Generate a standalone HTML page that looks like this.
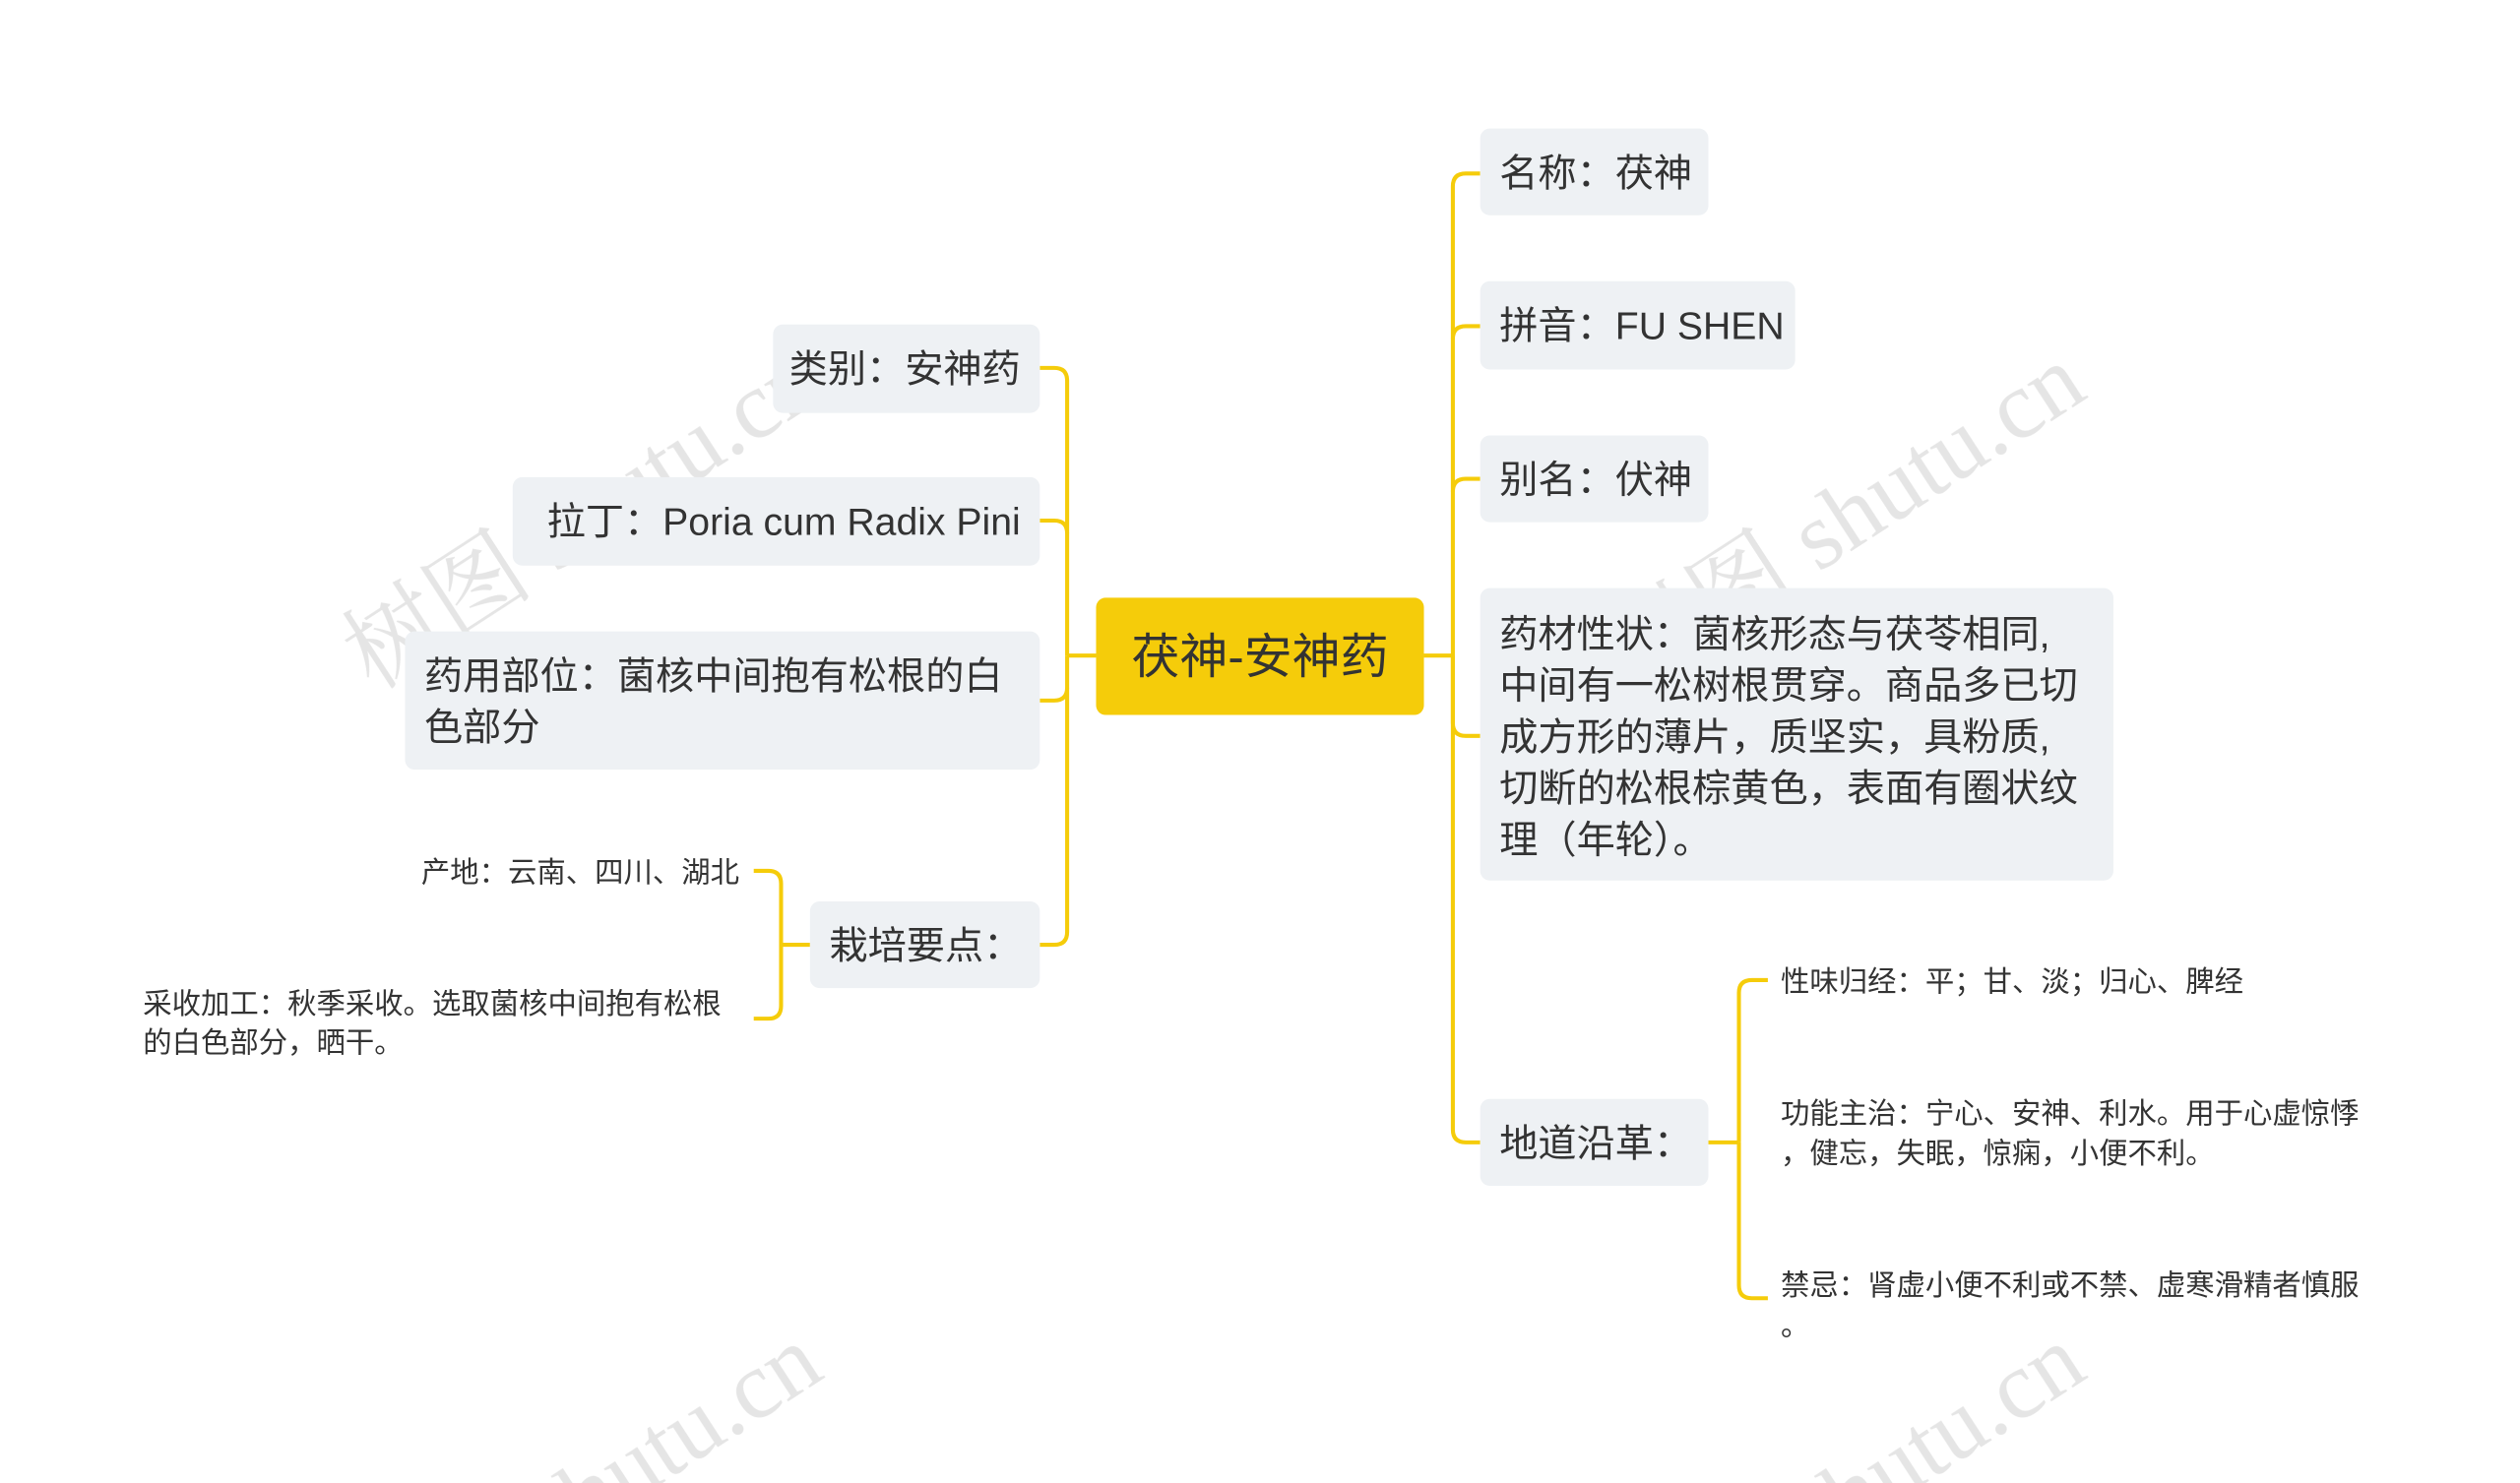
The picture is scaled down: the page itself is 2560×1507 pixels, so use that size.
<!DOCTYPE html>
<html><head><meta charset="utf-8"><style>
html,body{margin:0;padding:0;background:#fff;width:2560px;height:1507px;overflow:hidden}
svg{display:block}
svg text{font-family:"Liberation Sans","Noto Sans CJK SC",sans-serif;fill:#333}
svg text.wm{font-family:"Liberation Serif","Noto Serif CJK SC",serif;fill:#d4d4d4}
</style></head><body>
<svg width="2560" height="1507" viewBox="0 0 1568 923" preserveAspectRatio="none" xmlns="http://www.w3.org/2000/svg">
<defs><clipPath id="c"><rect x="0" y="0" width="1568" height="923"/></clipPath></defs>
<g font-size="60" opacity="0.6" clip-path="url(#c)">
<text class="wm" transform="translate(232 430) rotate(-33)">树图 shutu.cn</text>
<text class="wm" transform="translate(1018 430) rotate(-33)">树图 shutu.cn</text>
<text class="wm" transform="translate(232 1040) rotate(-33)">树图 shutu.cn</text>
<text class="wm" transform="translate(1018 1040) rotate(-33)">树图 shutu.cn</text>
</g>
<g fill="none" stroke="#f5cc0a" stroke-width="2.5">
<path d="M886 408 H904"/>
<path d="M904 408 V116 Q904 108 912 108 H921"/>
<path d="M904 211 Q904 203 912 203 H921"/>
<path d="M904 306 Q904 298 912 298 H921"/>
<path d="M904 408 V450 Q904 458 912 458 H921"/>
<path d="M904 408 V703 Q904 711 912 711 H921"/>
<path d="M1063 711 H1082"/>
<path d="M1082 711 V618 Q1082 610 1090 610 H1100"/>
<path d="M1082 711 V800 Q1082 808 1090 808 H1100"/>
<path d="M682 408 H664"/>
<path d="M664 408 V237 Q664 229 656 229 H647"/>
<path d="M664 332 Q664 324 656 324 H647"/>
<path d="M664 428 Q664 436 656 436 H647"/>
<path d="M664 408 V580 Q664 588 656 588 H647"/>
<path d="M504 588 H486"/>
<path d="M486 588 V550 Q486 542 478 542 H469"/>
<path d="M486 588 V626 Q486 634 478 634 H469"/>
</g>
<rect x="682" y="372" width="204" height="73" rx="6" fill="#f5cc0a"/>
<text x="784" y="419" font-size="30" text-anchor="middle">茯神-安神药</text>
<g fill="#eef1f4">
<rect x="921" y="80" width="142" height="54" rx="6"/>
<rect x="921" y="175" width="196" height="55" rx="6"/>
<rect x="921" y="271" width="142" height="54" rx="6"/>
<rect x="921" y="366" width="394" height="182" rx="6"/>
<rect x="921" y="684" width="142" height="54" rx="6"/>
<rect x="481" y="202" width="166" height="55" rx="6"/>
<rect x="319" y="297" width="328" height="55" rx="6"/>
<rect x="252" y="393" width="395" height="86" rx="6"/>
<rect x="504" y="561" width="143" height="54" rx="6"/>
</g>
<g font-size="24">
<text x="933" y="116">名称：茯神</text>
<text x="933" y="211">拼音：FU SHEN</text>
<text x="933" y="307">别名：伏神</text>
<text x="933" y="403">药材性状：菌核形态与茯苓相同,</text>
<text x="933" y="435">中间有一松树根贯穿。商品多已切</text>
<text x="933" y="467">成方形的薄片，质坚实，具粉质,</text>
<text x="933" y="499">切断的松根棕黄色，表面有圈状纹</text>
<text x="933" y="531">理（年轮）。</text>
<text x="933" y="720">地道沿革：</text>
<text x="635" y="238" text-anchor="end">类别：安神药</text>
<text x="635" y="333" text-anchor="end">拉丁：Poria cum Radix Pini</text>
<text x="264" y="429">药用部位：菌核中间抱有松根的白</text>
<text x="264" y="461">色部分</text>
<text x="516" y="597">栽培要点：</text>
</g>
<g font-size="18">
<text x="1108" y="617">性味归经：平；甘、淡；归心、脾经</text>
<text x="1108" y="699">功能主治：宁心、安神、利水。用于心虚惊悸</text>
<text x="1108" y="724">，健忘，失眠，惊痫，小便不利。</text>
<text x="1108" y="806">禁忌：肾虚小便不利或不禁、虚寒滑精者慎服</text>
<text x="1108" y="831">。</text>
<text x="460" y="549" text-anchor="end">产地：云南、四川、湖北</text>
<text x="89" y="631">采收加工：秋季采收。选取菌核中间抱有松根</text>
<text x="89" y="655">的白色部分，晒干。</text>
</g>
</svg>
</body></html>
